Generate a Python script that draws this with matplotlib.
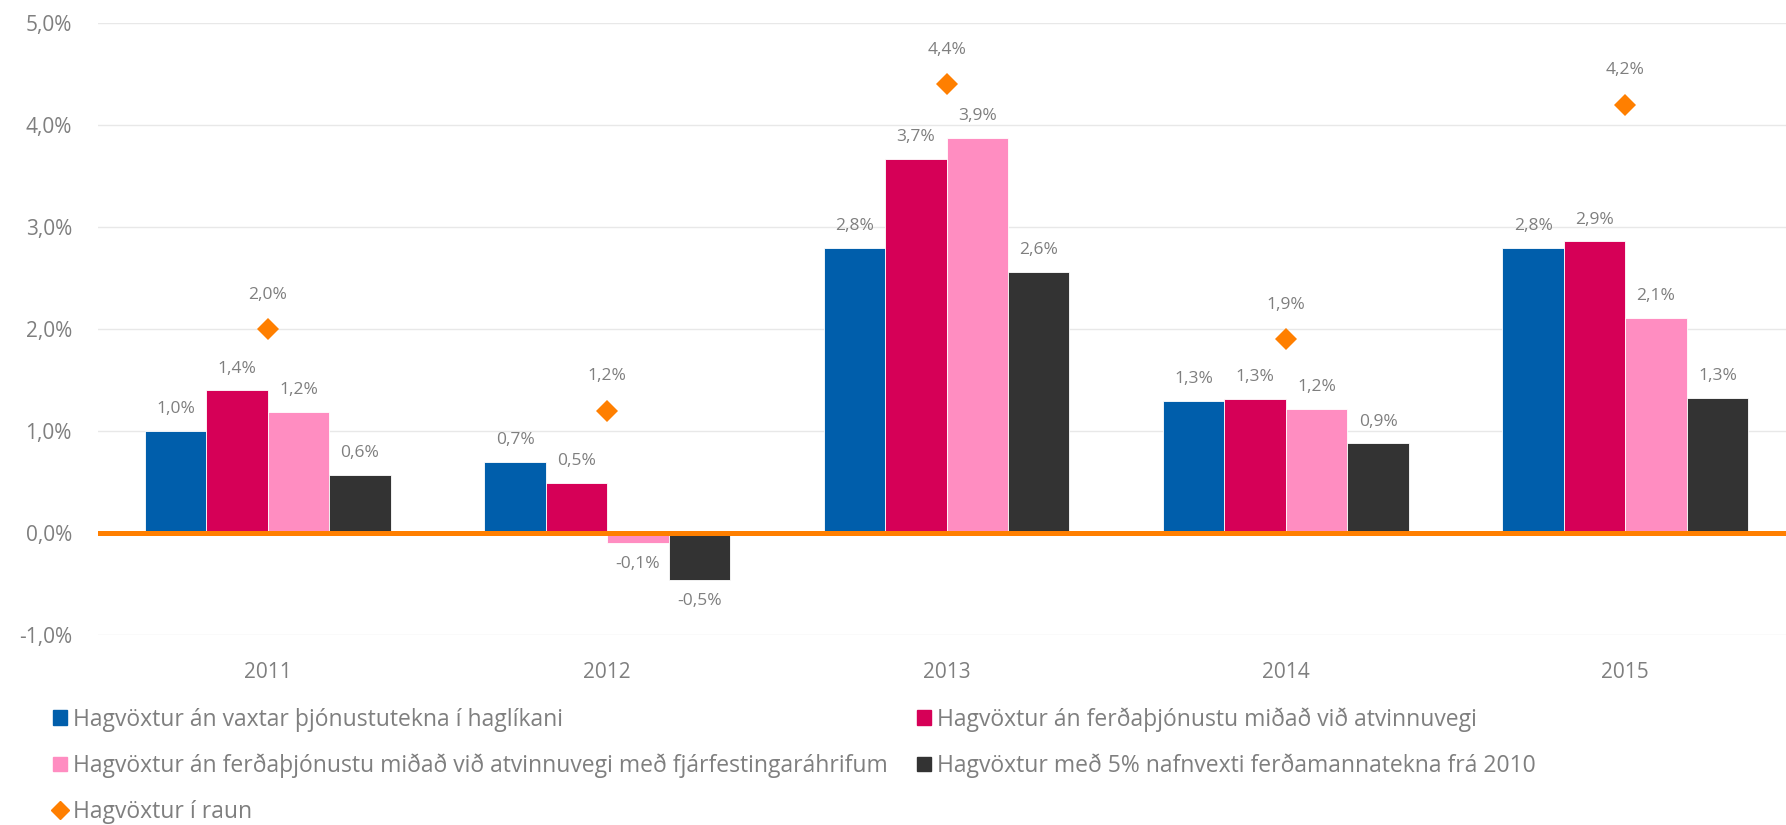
import numpy as np
import matplotlib.pyplot as plt
from matplotlib.patches import Patch
from matplotlib.lines import Line2D

plt.rcParams['font.family'] = ['Open Sans', 'DejaVu Sans']

# Data (percent)
years = ['2011', '2012', '2013', '2014', '2015']
blue_vals = [1.0, 0.7, 2.8, 1.3, 2.8]
magenta_vals = [1.4, 0.49, 3.67, 1.32, 2.86]
pink_vals = [1.19, -0.1, 3.87, 1.22, 2.11]
dark_vals = [0.57, -0.46, 2.56, 0.88, 1.33]
actual_vals = [2.0, 1.2, 4.4, 1.9, 4.2]

names = ['Hagvöxtur án vaxtar þjónustutekna í haglíkani',
         'Hagvöxtur án ferðaþjónustu miðað við atvinnuvegi',
         'Hagvöxtur án ferðaþjónustu miðað við atvinnuvegi með fjárfestingaráhrifum',
         'Hagvöxtur með 5% nafnvexti ferðamannatekna frá 2010',
         'Hagvöxtur í raun']
colors = ['#005EAB', '#D60057', '#FF8DC1', '#333333']
orange = '#FF7F00'
txt = '#7f7f7f'

def fmt(v):
    return ('%.1f%%' % v).replace('.', ',')

fig = plt.figure(figsize=(17.86, 8.25), dpi=100)
ax = fig.add_axes([0.055, 0.230, 0.950, 0.742])

x = np.arange(len(years))
w = 0.181
series = [blue_vals, magenta_vals, pink_vals, dark_vals]
for i, vals in enumerate(series):
    pos = x + (i - 1.5) * w
    ax.bar(pos, vals, w, color=colors[i], edgecolor='white', linewidth=0.6, zorder=2)
    for px, v in zip(pos, vals):
        if v >= 0:
            ax.annotate(fmt(v), (px, v), xytext=(0, 10), textcoords='offset points',
                        ha='center', va='bottom', fontsize=12.5, color=txt)
        else:
            ax.annotate(fmt(v), (px, v), xytext=(0, -9), textcoords='offset points',
                        ha='center', va='top', fontsize=12.5, color=txt)

ax.axhline(0, color=orange, lw=3.6, zorder=3)
ax.plot(x, actual_vals, 'D', color=orange, ms=11.5, zorder=4, markeredgewidth=0)
for px, v in zip(x, actual_vals):
    ax.annotate(fmt(v), (px, v), xytext=(0, 19), textcoords='offset points',
                ha='center', va='bottom', fontsize=12.5, color=txt)

ax.set_xlim(-0.5, 4.5)
ax.set_ylim(-1, 5)
ax.set_yticks(np.arange(-1, 6, 1))
ax.set_yticklabels([fmt(t) for t in np.arange(-1, 6, 1)])
ax.set_xticks(x)
ax.set_xticklabels(years)
ax.tick_params(axis='both', length=0, labelsize=15, colors=txt)
ax.tick_params(axis='y', pad=19)
ax.tick_params(axis='x', pad=19)
ax.grid(axis='y', color='#e8e8e8', lw=1, zorder=0)
ax.set_axisbelow(True)
for s in ax.spines.values():
    s.set_visible(False)

handles = [Patch(color=colors[0]), Patch(color=colors[2]),
           Line2D([], [], marker='D', color=orange, ls='none', ms=9),
           Patch(color=colors[1]), Patch(color=colors[3])]
labels = [names[0], names[2], names[4], names[1], names[3]]
leg = fig.legend(handles, labels, ncol=2, loc='upper left',
                 bbox_to_anchor=(0.0297, 0.143), frameon=False, fontsize=16.5,
                 handlelength=0.6, handleheight=0.6, handletextpad=0.25,
                 labelspacing=0.95, columnspacing=1.3, borderpad=0, borderaxespad=0)
for t in leg.get_texts():
    t.set_color(txt)

plt.savefig('out.png', dpi=100)
